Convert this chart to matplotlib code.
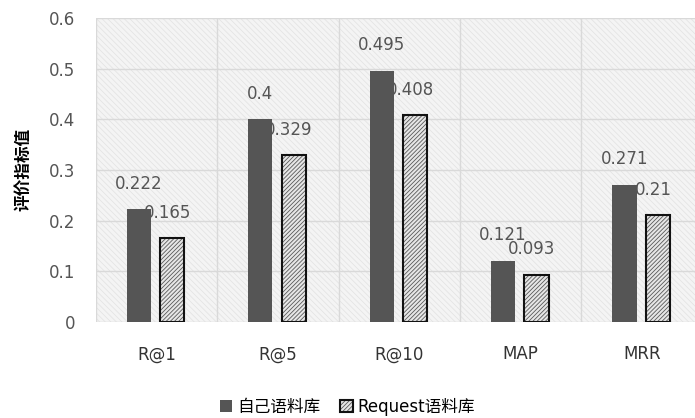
import numpy as np
import matplotlib.pyplot as plt
from matplotlib.patches import Rectangle

plt.rcParams['font.family'] = ['DejaVu Sans', 'Noto Sans CJK SC']
plt.rcParams['hatch.linewidth'] = 0.6

metrics = ['R@1', 'R@5', 'R@10', 'MAP', 'MRR']
own_corpus = [0.222, 0.4, 0.495, 0.121, 0.271]
request_corpus = [0.165, 0.329, 0.408, 0.093, 0.21]
series_names = ['自己语料库', 'Request语料库']
yticks = [0, 0.1, 0.2, 0.3, 0.4, 0.5, 0.6]

fig = plt.figure(figsize=(6.95, 4.18), dpi=100)
ax = fig.add_axes([0.138, 0.23, 0.873, 0.727])

# hatched plot background
plt.rcParams['hatch.color'] = '#e4e4e4'
bg = Rectangle((0, 0), 1, 1, transform=ax.transAxes, facecolor='#f4f4f4',
               hatch='\\\\\\\\\\\\', linewidth=0, zorder=0)
ax.add_patch(bg)

x = np.arange(len(metrics))
w = 0.2
dark = ax.bar(x - 0.145, own_corpus, w, color='#555555', zorder=3,
              label=series_names[0])
light = ax.bar(x + 0.13, request_corpus, w, facecolor='#e6e6e6',
               edgecolor='#111111', hatch='////////', linewidth=1.5, zorder=3,
               label=series_names[1])
for p in light:
    p._hatch_color = (0.35, 0.35, 0.35, 1.0)

for xi, v in zip(x, own_corpus):
    ax.text(xi - 0.145, v + 0.033, f'{v:g}', ha='center', va='bottom',
            fontsize=12, color='#555555', zorder=4)
for xi, v in zip(x, request_corpus):
    ax.text(xi + 0.09, v + 0.033, f'{v:g}', ha='center', va='bottom',
            fontsize=12, color='#555555', zorder=4)

ax.set_xlim(-0.5, len(metrics) - 0.5)
ax.set_ylim(0, 0.6)
ax.set_yticks(yticks)
ax.set_yticklabels([f'{t:g}' for t in yticks], fontsize=12, color='#555555')
ax.set_xticks(x)
ax.set_xticklabels(metrics, fontsize=12, color='#333333')
ax.tick_params(length=0, axis='y', pad=15)
ax.tick_params(length=0, axis='x', pad=17)

for t in yticks:
    ax.axhline(t, color='#d9d9d9', linewidth=1, zorder=1)
for b in np.arange(-0.5, len(metrics), 1.0):
    ax.axvline(b, color='#d9d9d9', linewidth=1, zorder=1)
for s in ax.spines.values():
    s.set_visible(False)

ax.set_ylabel('评价指标值', family=['Noto Sans CJK SC'], fontsize=12,
              fontweight='bold', labelpad=12)

fig.legend(handles=[dark, light], labels=series_names, loc='center',
           bbox_to_anchor=(0.5, 0.027), ncol=2, frameon=False,
           handlelength=0.75, handleheight=0.75, handletextpad=0.3,
           columnspacing=1.2, prop={'family': ['DejaVu Sans', 'Noto Sans CJK SC'], 'size': 12})

fig.savefig('out.png', dpi=100)
